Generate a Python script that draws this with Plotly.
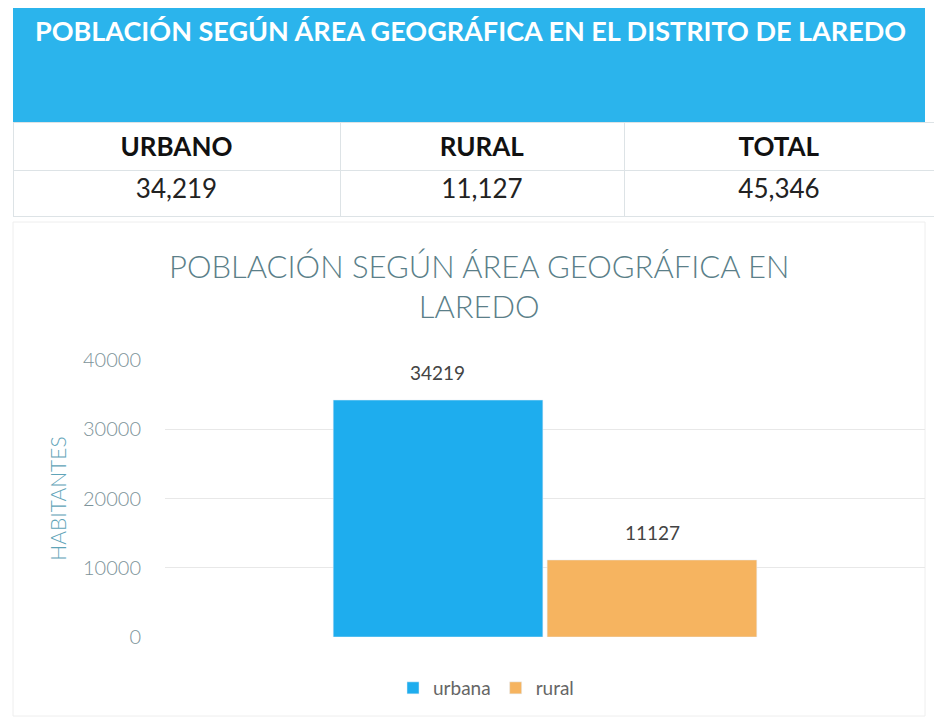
import plotly.graph_objects as go

W, H = 934, 722

banner_title = "POBLACIÓN SEGÚN ÁREA GEOGRÁFICA EN EL DISTRITO DE LAREDO"
table_headers = ["URBANO", "RURAL", "TOTAL"]
table_values = ["34,219", "11,127", "45,346"]

chart_title = "POBLACIÓN SEGÚN ÁREA GEOGRÁFICA EN<br>LAREDO"
category = ["Laredo"]
series_names = ["urbana", "rural"]
series_values = [34219, 11127]
series_colors = ["#1EADEE", "#F6B460"]
y_ticks = [0, 10000, 20000, 30000, 40000]

FONT = "Lato, 'Open Sans', sans-serif"

def px_x(p):
    return p / W

def px_y(p):
    return 1 - p / H

fig = go.Figure()

# Table
fig.add_trace(go.Table(
    domain=dict(x=[px_x(13), 1.0], y=[px_y(217), px_y(122)]),
    columnwidth=[327, 284, 310],
    header=dict(values=[f"<b>{h}</b>" for h in table_headers],
                fill_color="white", line_color="#dde3e6",
                font=dict(family=FONT, size=26, color="#111111"),
                align="center", height=48),
    cells=dict(values=[[v] for v in table_values],
               fill_color="white", line_color="#dde3e6",
               font=dict(family=FONT, size=26, color="#222222"),
               align="center", height=46),
))

for name, val, col in zip(series_names, series_values, series_colors):
    fig.add_trace(go.Bar(
        x=category, y=[val], name=name, marker_color=col,
    ))

label_shift = [-108, 107]
annotations = [
    dict(text=f"<b>{banner_title}</b>", xref="paper", yref="paper",
         x=px_x(470), y=px_y(30), xanchor="center", yanchor="middle",
         showarrow=False, font=dict(family=FONT, size=27, color="white")),
    dict(text=chart_title, xref="paper", yref="paper",
         x=px_x(479), y=px_y(286), xanchor="center", yanchor="middle",
         showarrow=False, align="center",
         font=dict(family=FONT, size=31, color="#5b7f89", weight=300)),
]
for val, dx in zip(series_values, label_shift):
    annotations.append(dict(
        text=str(val), x=category[0], y=val, xref="x", yref="y",
        xshift=dx, yshift=14, yanchor="bottom", xanchor="center",
        showarrow=False, font=dict(family=FONT, size=19, color="#444444")))

fig.update_layout(
    width=W, height=H,
    margin=dict(l=0, r=0, t=0, b=0, autoexpand=False),
    paper_bgcolor="white", plot_bgcolor="white",
    font=dict(family=FONT),
    barmode="group", bargap=0.437, bargroupgap=0.02,
    showlegend=True,
    legend=dict(orientation="h", x=px_x(486), xanchor="center",
                y=px_y(688), yanchor="middle",
                font=dict(family=FONT, size=19, color="#666666"),
                itemwidth=30, traceorder="normal"),
    xaxis=dict(domain=[px_x(165), px_x(925)], showticklabels=False,
               type="category", range=[-0.5, 0.5], autorange=False,
               showline=False, showgrid=False, zeroline=False, fixedrange=True),
    yaxis=dict(domain=[px_y(637), px_y(360)], range=[0, 40000],
               tickvals=y_ticks, ticktext=[str(t) for t in y_ticks],
               tickfont=dict(family=FONT, size=20, color="#7d9399", weight=300),
               showgrid=True, gridcolor="#e8e8e8", zeroline=False,
               showline=False, ticks="", ticklabelstandoff=23,
               title=dict(text="HABITANTES", standoff=10,
                          font=dict(family=FONT, size=21, color="#5fa4b8", weight=300))),
    shapes=[
        dict(type="rect", xref="paper", yref="paper",
             x0=px_x(13), x1=px_x(925), y0=px_y(122), y1=px_y(8),
             fillcolor="#2BB4EC", line=dict(width=0), layer="below"),
        dict(type="rect", xref="paper", yref="paper",
             x0=px_x(13), x1=px_x(925), y0=px_y(716), y1=px_y(222),
             fillcolor="rgba(0,0,0,0)", line=dict(width=1, color="#eeeeee"),
             layer="below"),
    ],
    annotations=annotations,
)

fig.write_html("out.html", config={"displayModeBar": False},
               post_script="document.body.style.margin='0';document.body.style.overflow='hidden';")
